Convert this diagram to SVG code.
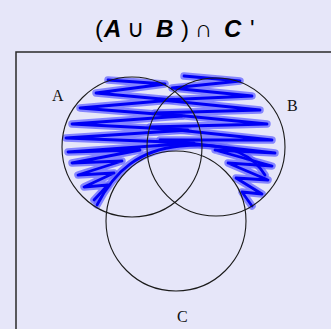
<svg xmlns="http://www.w3.org/2000/svg" width="331" height="329" viewBox="0 0 331 329">
<style>
.ring{fill:none;stroke:#1a1a1a;stroke-width:1.1}
.halo{fill:none;stroke:#6464ff;stroke-opacity:0.75;stroke-width:7.5;stroke-linecap:round;stroke-linejoin:round}
.core{fill:none;stroke:#0000f5;stroke-width:2.8;stroke-linecap:round;stroke-linejoin:round}
.lbl{font-family:"Liberation Serif","DejaVu Serif",serif;font-size:16px;fill:#111}
.ttl{font-family:"Liberation Sans","DejaVu Sans",sans-serif;font-size:24px;fill:#000}
.it{font-weight:bold;font-style:italic}
</style>
<defs>
<path id="sL" d="M108,80 L165,84 L96,93 L172,100 L80,108 L182,116 L72,124 L188,130 L66,138 L194,143 L68,152 L140,150 L72,163 L122,161 L78,175 L114,173 L84,187 L108,185 L94,200"/>
<path id="sR" d="M184,76 L240,81 L172,88 L252,96 L162,100 L260,110 L155,113 L267,124 L150,127 L272,140 L160,140 L275,153 L215,150 L272,166 L228,163 L268,180 L236,178 L262,194 L242,192 L252,206"/>
<path id="sC" d="M97,205 C115,170 140,150 180,146 S250,150 265,175"/>
</defs>
<rect width="331" height="329" fill="#e6e6f9"/>
<text class="ttl" y="37"><tspan x="95">(</tspan><tspan class="it" x="104">A</tspan><tspan x="127">∪</tspan><tspan class="it" x="156">B</tspan><tspan x="181">)</tspan><tspan x="195">∩</tspan><tspan class="it" x="224">C</tspan><tspan x="250">'</tspan></text>
<rect x="16" y="52" width="330" height="300" fill="none" stroke="#2a2a2a" stroke-width="1.5"/>
<g id="shading">
<use href="#sL" class="halo"/><use href="#sR" class="halo"/><use href="#sC" class="halo"/>
<use href="#sL" class="core"/><use href="#sR" class="core"/><use href="#sC" class="core"/>
</g>
<g id="A"><circle class="ring" cx="132" cy="147" r="70"/><text class="lbl" x="52" y="101">A</text></g>
<g id="B"><circle class="ring" cx="216" cy="147" r="69"/><text class="lbl" x="287" y="111">B</text></g>
<g id="C"><circle class="ring" cx="176" cy="221" r="70"/><text class="lbl" x="177" y="322">C</text></g>
<g id="connectors"/>
</svg>
